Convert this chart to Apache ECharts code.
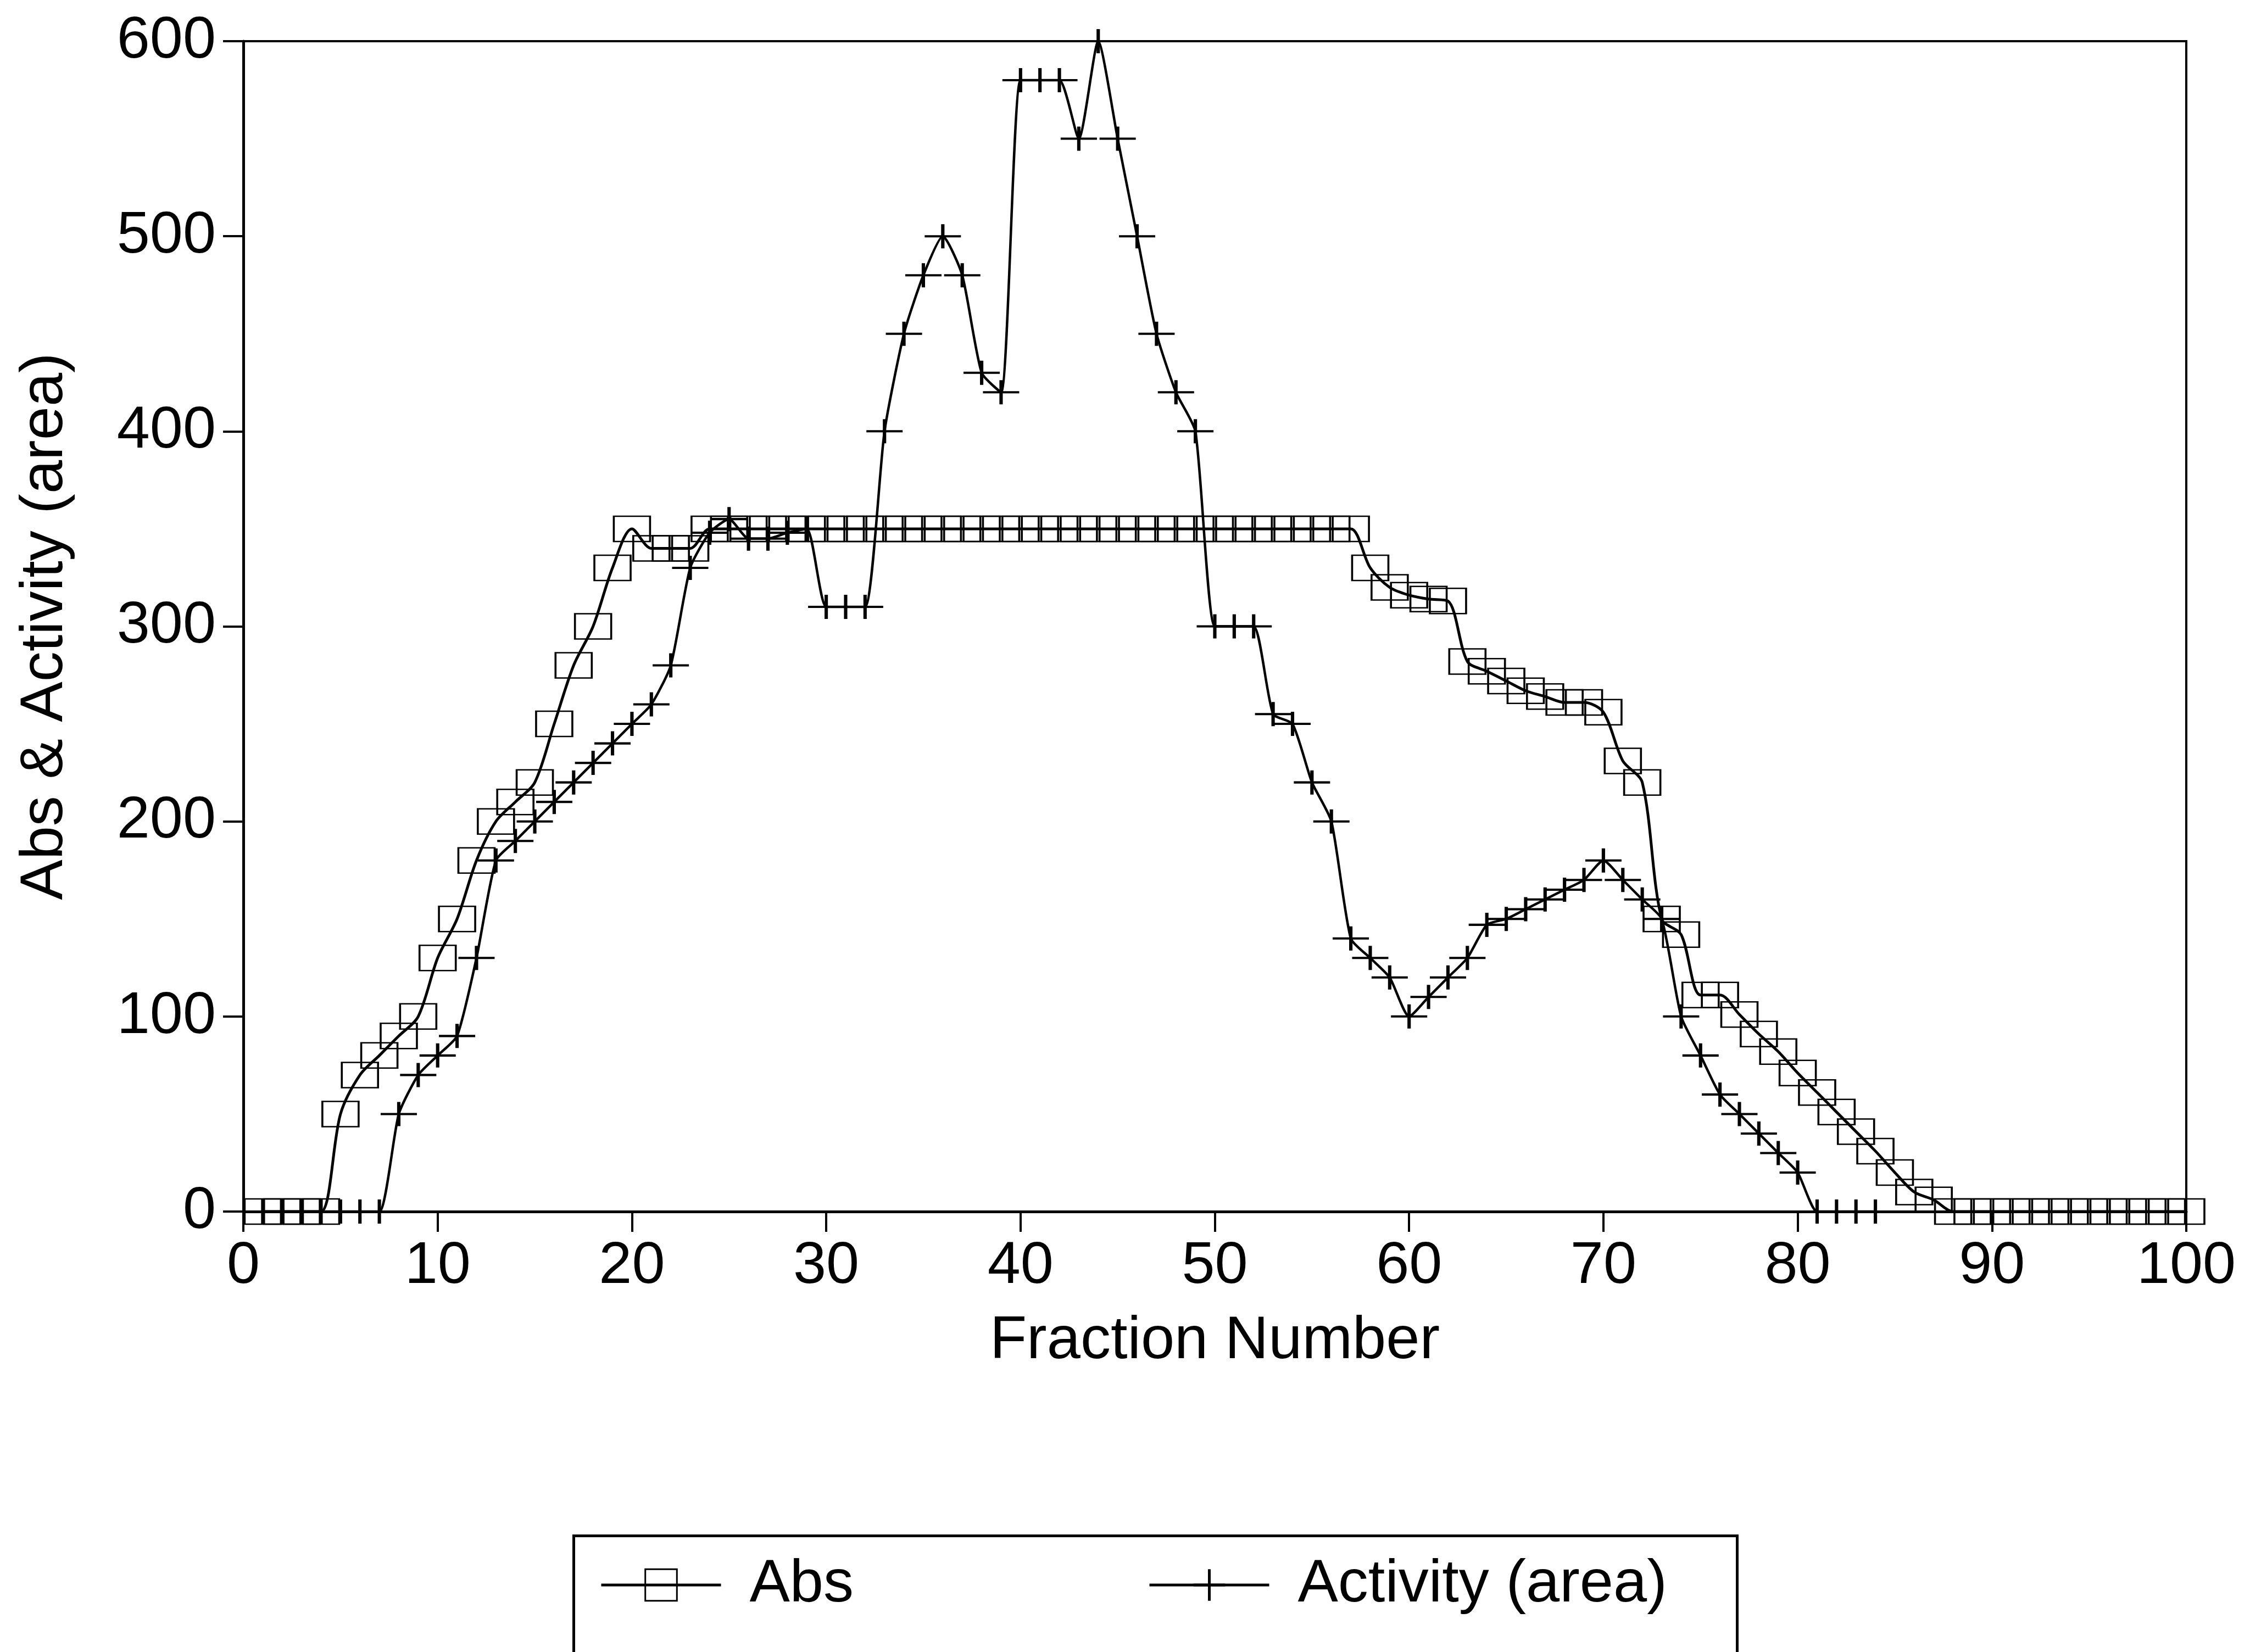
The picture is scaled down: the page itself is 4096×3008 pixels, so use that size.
<!DOCTYPE html>
<html>
<head>
<meta charset="utf-8">
<script src="https://cdn.jsdelivr.net/npm/echarts@6/dist/echarts.min.js"></script>
<style>
html,body{margin:0;padding:0;background:#fff;}
#chart{width:4096px;height:3008px;}
</style>
</head>
<body>
<div id="chart"></div>
<script>
// Fraction numbers for the Abs series
const absFractions = [1,2,3,4,5,6,7,8,9,10,11,12,13,14,15,16,17,18,19,20,
  21,22,23,24,25,26,27,28,29,30,31,32,33,34,35,36,37,38,39,40,
  41,42,43,44,45,46,47,48,49,50,51,52,53,54,55,56,57,58,59,60,
  61,62,63,64,65,66,67,68,69,70,71,72,73,74,75,76,77,78,79,80,
  81,82,83,84,85,86,87,88,89,90,91,92,93,94,95,96,97,98,99,100];
const absValues = [0,0,0,0,50,70,80,90,100,130,150,180,200,210,220,250,280,300,330,350,
  340,340,340,350,350,350,350,350,350,350,350,350,350,350,350,350,350,350,350,350,
  350,350,350,350,350,350,350,350,350,350,350,350,350,350,350,350,350,330,320,316,
  314,313,282,277,272,267,264,261,261,256,231,220,150,142,111,111,101,91,82,71,
  61,51,41,31,20,10,6,0,0,0,0,0,0,0,0,0,0,0,0,0];

// Fraction numbers for the Activity series
const actFractions = [1,2,3,4,5,6,7,8,9,10,11,12,13,14,15,16,17,18,19,20,
  21,22,23,24,25,26,27,28,29,30,31,32,33,34,35,36,37,38,39,40,
  41,42,43,44,45,46,47,48,49,50,51,52,53,54,55,56,57,58,59,60,
  61,62,63,64,65,66,67,68,69,70,71,72,73,74,75,76,77,78,79,80,
  81,82,83,84];
const actValues = [0,0,0,0,0,0,0,50,70,80,90,130,180,190,200,210,220,230,240,250,
  260,280,330,348,355,345,345,348,350,310,310,310,400,450,480,500,480,430,420,580,
  580,580,550,600,550,500,450,420,400,300,300,300,255,250,220,200,140,130,120,100,
  110,120,130,147,150,155,160,165,170,180,170,160,150,100,80,60,50,40,30,20,
  0,0,0,0];

const seriesNames = ['Abs', 'Activity (area)'];
const xTitle = 'Fraction Number';
const yTitle = 'Abs & Activity (area)';

const FONT = 'Liberation Sans, Arial, Helvetica, sans-serif';
const chart = echarts.init(document.getElementById('chart'), null, {renderer: 'canvas'});

const option = {
  backgroundColor: '#ffffff',
  animation: false,
  grid: {
    left: 443, right: 116, top: 75, bottom: 802,
    show: true, borderColor: '#000', borderWidth: 4, backgroundColor: 'transparent'
  },
  xAxis: {
    type: 'value', min: 0, max: 100, interval: 10,
    name: xTitle, nameLocation: 'middle', nameGap: 182,
    nameTextStyle: {fontFamily: FONT, fontSize: 110, color: '#000'},
    axisLine: {show: true, onZero: false, lineStyle: {color: '#000', width: 5}},
    axisTick: {show: true, inside: false, length: 37, lineStyle: {color: '#000', width: 4}},
    axisLabel: {fontFamily: FONT, fontSize: 108, color: '#000', margin: 46},
    splitLine: {show: false}
  },
  yAxis: {
    type: 'value', min: 0, max: 600, interval: 100,
    name: yTitle, nameLocation: 'middle', nameGap: 305, nameRotate: 90,
    nameTextStyle: {fontFamily: FONT, fontSize: 110, color: '#000'},
    axisLine: {show: true, lineStyle: {color: '#000', width: 5}},
    axisTick: {show: true, inside: false, length: 37, lineStyle: {color: '#000', width: 4}},
    axisLabel: {fontFamily: FONT, fontSize: 108, color: '#000', margin: 50},
    splitLine: {show: false}
  },
  legend: [
    {
      data: [seriesNames[0]], left: 1092, top: 2831, padding: 0,
      itemWidth: 218, itemHeight: 72,
      lineStyle: {color: '#000', width: 5},
      itemStyle: {color: 'rgba(0,0,0,0)', borderColor: '#000', borderWidth: 3},
      textStyle: {fontFamily: FONT, fontSize: 110, color: '#000', padding: [0, 0, 0, 47]}
    },
    {
      data: [seriesNames[1]], left: 2090, top: 2831, padding: 0,
      itemWidth: 218, itemHeight: 72,
      lineStyle: {color: '#000', width: 5},
      itemStyle: {color: 'rgba(0,0,0,0)', borderColor: '#000', borderWidth: 5},
      textStyle: {fontFamily: FONT, fontSize: 110, color: '#000', padding: [0, 0, 0, 47]}
    }
  ],
  graphic: [
    {
      type: 'rect', left: 1042, top: 2794, silent: true,
      shape: {width: 2118, height: 400},
      style: {fill: 'none', stroke: '#000', lineWidth: 5}
    }
  ],
  series: [
    {
      name: seriesNames[0], type: 'line', clip: false,
      data: absFractions.map((f, i) => [f, absValues[i]]),
      smooth: 0.3,
      symbol: 'rect', symbolSize: [66, 46],
      itemStyle: {color: 'rgba(0,0,0,0)', borderColor: '#000', borderWidth: 3},
      lineStyle: {color: '#000', width: 5},
      z: 3
    },
    {
      name: seriesNames[1], type: 'line', clip: false,
      data: actFractions.map((f, i) => [f, actValues[i]]),
      smooth: 0.2,
      symbol: 'path://M0,50L100,50M50,0L50,100', symbolSize: [66, 44],
      itemStyle: {color: 'rgba(0,0,0,0)', borderColor: '#000', borderWidth: 5},
      lineStyle: {color: '#000', width: 4.5},
      z: 2
    }
  ]
};
chart.setOption(option);
</script>
</body>
</html>
